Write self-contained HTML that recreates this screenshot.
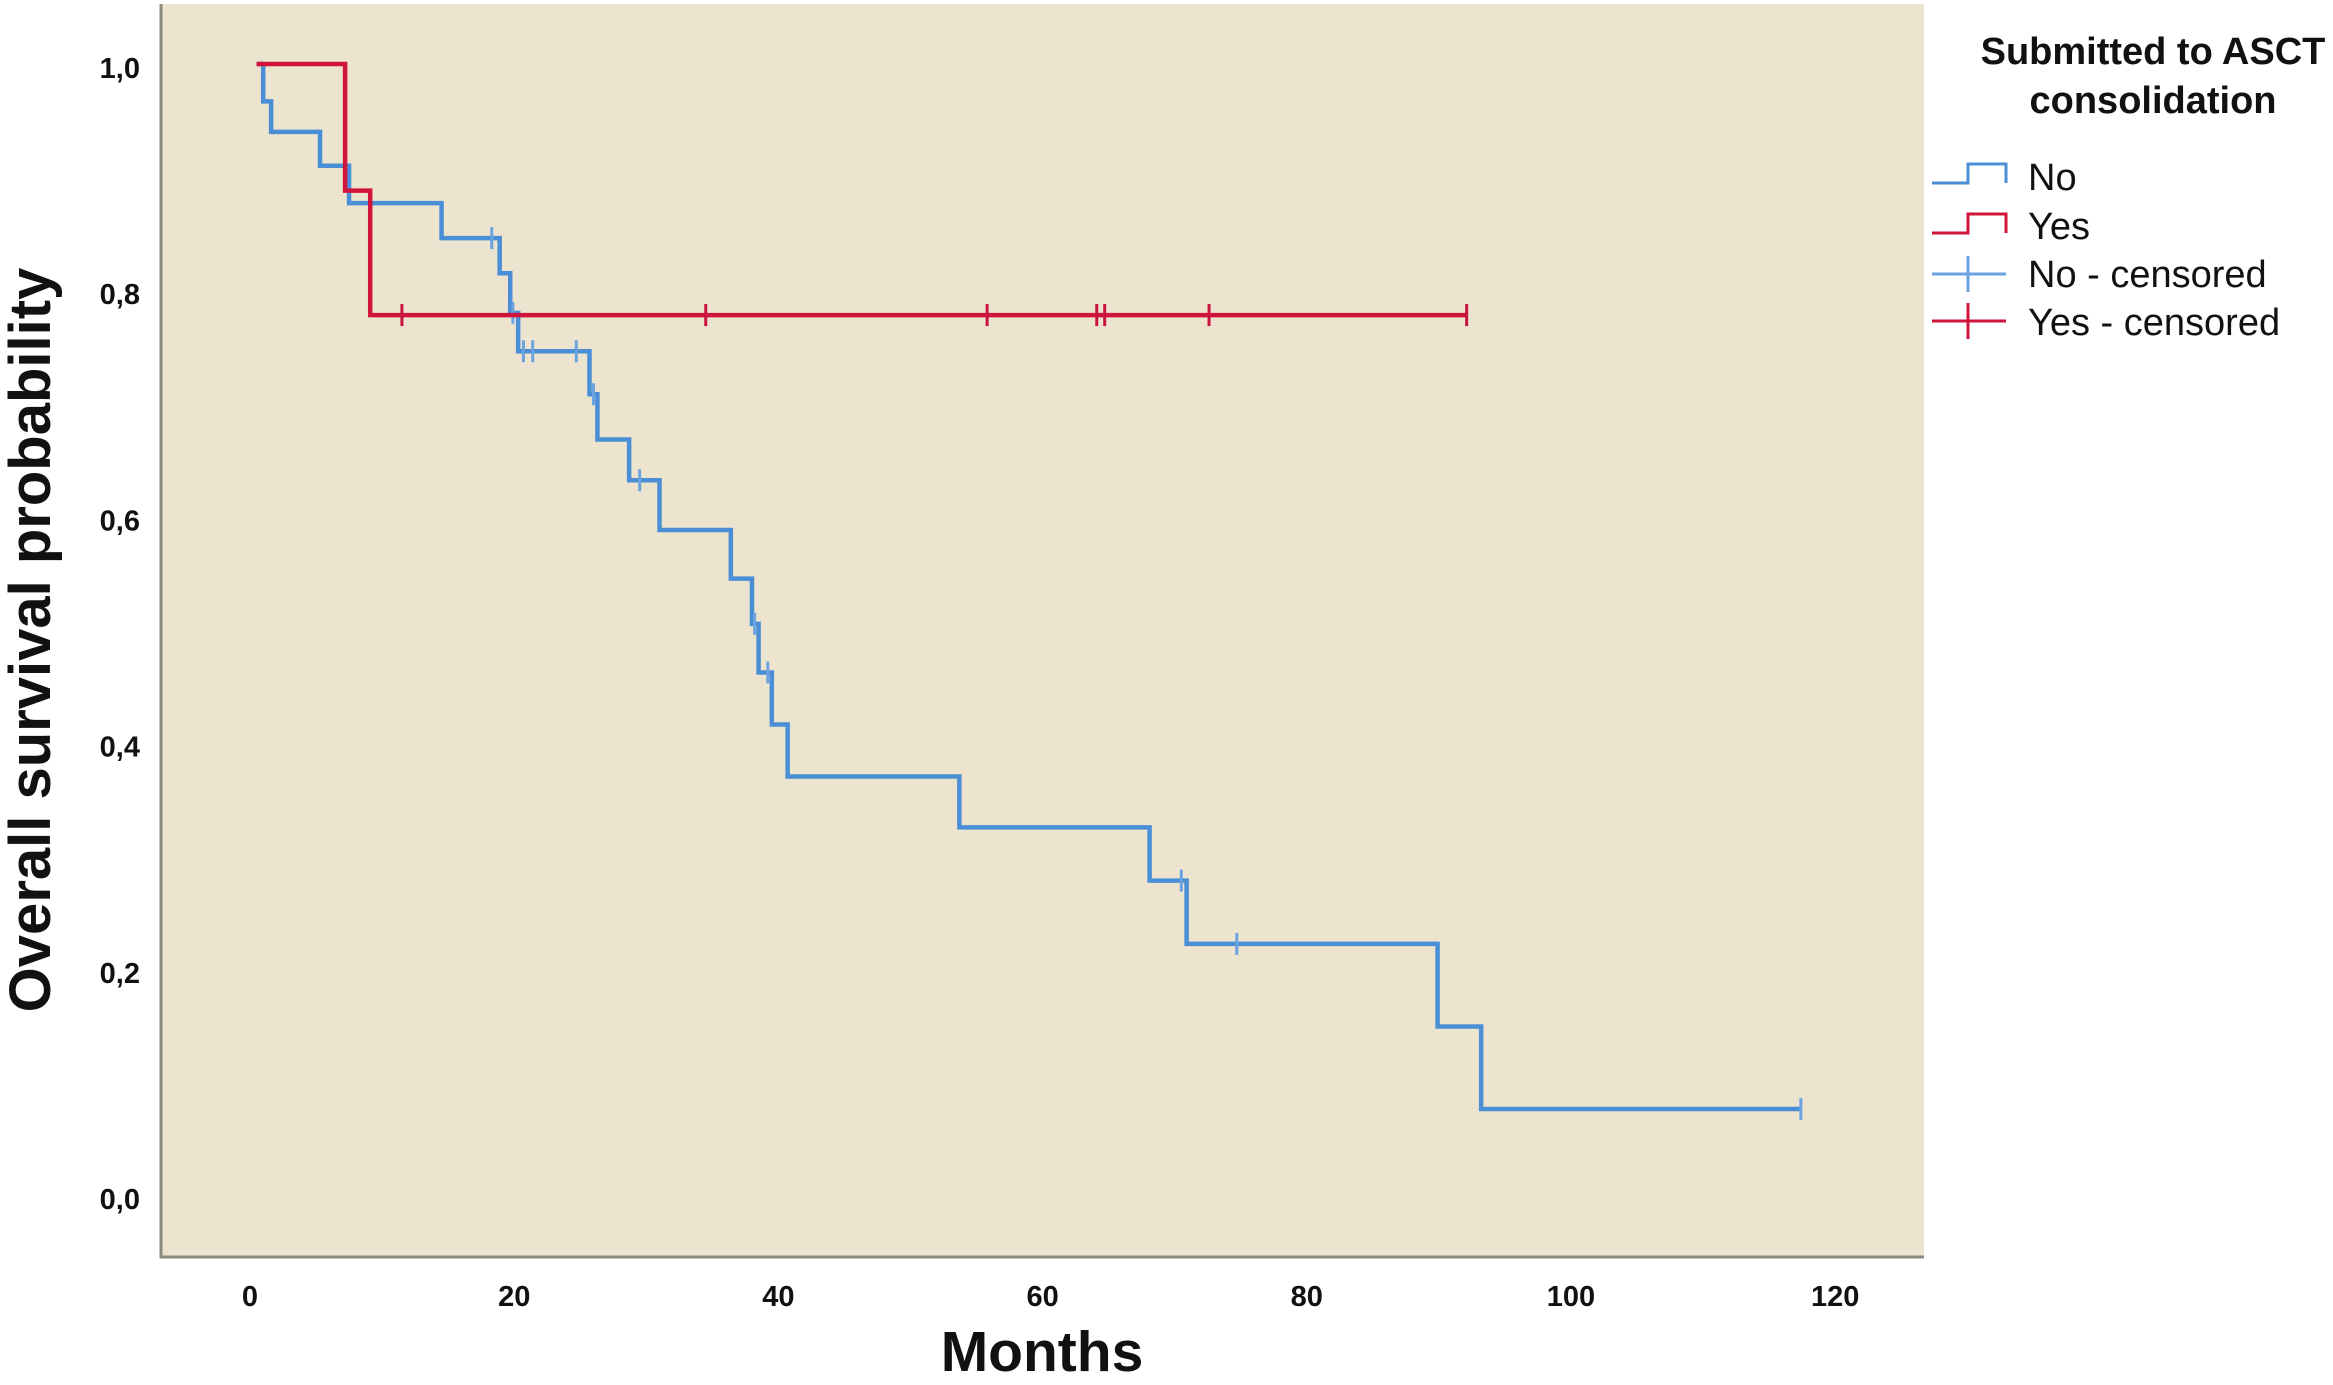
<!DOCTYPE html>
<html><head><meta charset="utf-8"><style>
html,body{margin:0;padding:0;background:#fff;}
svg{display:block;}
.tick{font-family:"Liberation Sans Narrow","Liberation Sans",sans-serif;font-weight:bold;font-size:29px;fill:#111;}
.leg{font-family:"Liberation Sans",sans-serif;font-size:38px;fill:#111;}
</style></head><body>
<svg id="chart" width="2333" height="1385" viewBox="0 0 2333 1385">
<rect x="161" y="4" width="1763" height="1253" fill="#ece4cf"/>
<line x1="161" y1="4" x2="161" y2="1258" stroke="#8a8a80" stroke-width="3"/>
<line x1="160" y1="1257" x2="1924" y2="1257" stroke="#8a8a80" stroke-width="3"/>
<g id="xticks"></g>
<g id="yticks"></g>
<g id="series"></g>
<text x="1042" y="1371" text-anchor="middle" font-family="Liberation Sans, sans-serif" font-weight="bold" font-size="57" fill="#111">Months</text>
<text transform="translate(50,640) rotate(-90)" text-anchor="middle" font-family="Liberation Sans, sans-serif" font-weight="bold" font-size="58" fill="#111">Overall survival probability</text>
<g>
<text x="2153" y="64" text-anchor="middle" font-family="Liberation Sans, sans-serif" font-weight="bold" font-size="38" fill="#111">Submitted to ASCT</text>
<text x="2153" y="113" text-anchor="middle" font-family="Liberation Sans, sans-serif" font-weight="bold" font-size="38" fill="#111">consolidation</text>
<g>
<polyline points="1932,183 1968,183 1968,164 2006,164 2006,183" fill="none" stroke="#4a8fd6" stroke-width="3"/>
<text class="leg" x="2028" y="190">No</text></g>
<g>
<polyline points="1932,233 1968,233 1968,214 2006,214 2006,233" fill="none" stroke="#d0143c" stroke-width="3"/>
<text class="leg" x="2028" y="239">Yes</text></g>
<g>
<line x1="1932" y1="274" x2="2006" y2="274" stroke="#6aa3e0" stroke-width="3"/>
<line x1="1968" y1="256" x2="1968" y2="292" stroke="#6aa3e0" stroke-width="3"/>
<text class="leg" x="2028" y="287">No - censored</text></g>
<g>
<line x1="1932" y1="321" x2="2006" y2="321" stroke="#d0143c" stroke-width="3"/>
<line x1="1968" y1="303" x2="1968" y2="339" stroke="#d0143c" stroke-width="3"/>
<text class="leg" x="2028" y="335">Yes - censored</text></g>
</g>
</svg>
<script>
const xTickValues=[0,20,40,60,80,100,120];
const yTickValues=[0,0.2,0.4,0.6,0.8,1.0];
const yTickLabels=["0,0","0,2","0,4","0,6","0,8","1,0"];
const noStart=0.5, noEnd=117.4;
const noTimes=[1.0,1.6,5.3,7.5,14.5,18.9,19.7,20.3,25.7,26.3,28.7,31.0,36.4,38.0,38.5,39.5,40.7,53.7,68.1,70.9,89.9,93.2];
const noSurv=[0.967,0.94,0.91,0.877,0.846,0.815,0.78,0.746,0.708,0.668,0.632,0.588,0.545,0.505,0.462,0.416,0.37,0.325,0.278,0.222,0.149,0.076];
const noCensored=[18.3,19.9,20.7,21.4,24.7,26.0,29.5,38.2,39.2,70.5,74.7,117.4];
const yesStart=0.5, yesEnd=92.1;
const yesTimes=[7.2,9.1];
const yesSurv=[0.888,0.778];
const yesCensored=[11.5,34.5,55.8,64.1,64.7,72.6,92.1];

const NS="http://www.w3.org/2000/svg";
function xs(m){return 250+m*13.21;}
function ys(v){return 1195-v*1131;}
function mk(tag,attrs,parent){const e=document.createElementNS(NS,tag);for(const k in attrs)e.setAttribute(k,attrs[k]);parent.appendChild(e);return e;}
const xg=document.getElementById('xticks'), yg=document.getElementById('yticks'), sg=document.getElementById('series');
xTickValues.forEach(v=>{
  const t=mk('text',{x:xs(v),y:1306,'text-anchor':'middle','class':'tick'},xg);
  t.textContent=v;
  
  
});
yTickValues.forEach((v,i)=>{
  const t=mk('text',{x:140,y:ys(v)+14,'text-anchor':'end','class':'tick'},yg);
  t.textContent=yTickLabels[i];
  
  
});
function survAt(t,times,surv){let s=1;for(let i=0;i<times.length;i++){if(times[i]<=t)s=surv[i];}return s;}
function drawSeries(start,end,times,surv,cens,color,cenColor,name){
  let s=1, pts=[[xs(start),ys(1)]];
  times.forEach((t,i)=>{pts.push([xs(t),ys(s)]);s=surv[i];pts.push([xs(t),ys(s)]);});
  pts.push([xs(end),ys(s)]);
  const p=mk('polyline',{points:pts.map(p=>p.join(',')).join(' '),fill:'none',stroke:color,'stroke-width':4.5,'stroke-linejoin':'miter'},sg);
  
  
  cens.forEach(t=>{
    const v=survAt(t,times,surv);
    const l=mk('line',{x1:xs(t),x2:xs(t),y1:ys(v)-11,y2:ys(v)+11,stroke:cenColor,'stroke-width':3},sg);
    
    
  });
}
drawSeries(noStart,noEnd,noTimes,noSurv,noCensored,'#4a8fd6','#6aa3e0','no');
drawSeries(yesStart,yesEnd,yesTimes,yesSurv,yesCensored,'#d0143c','#c8143c','yes');
</script>
</body></html>
